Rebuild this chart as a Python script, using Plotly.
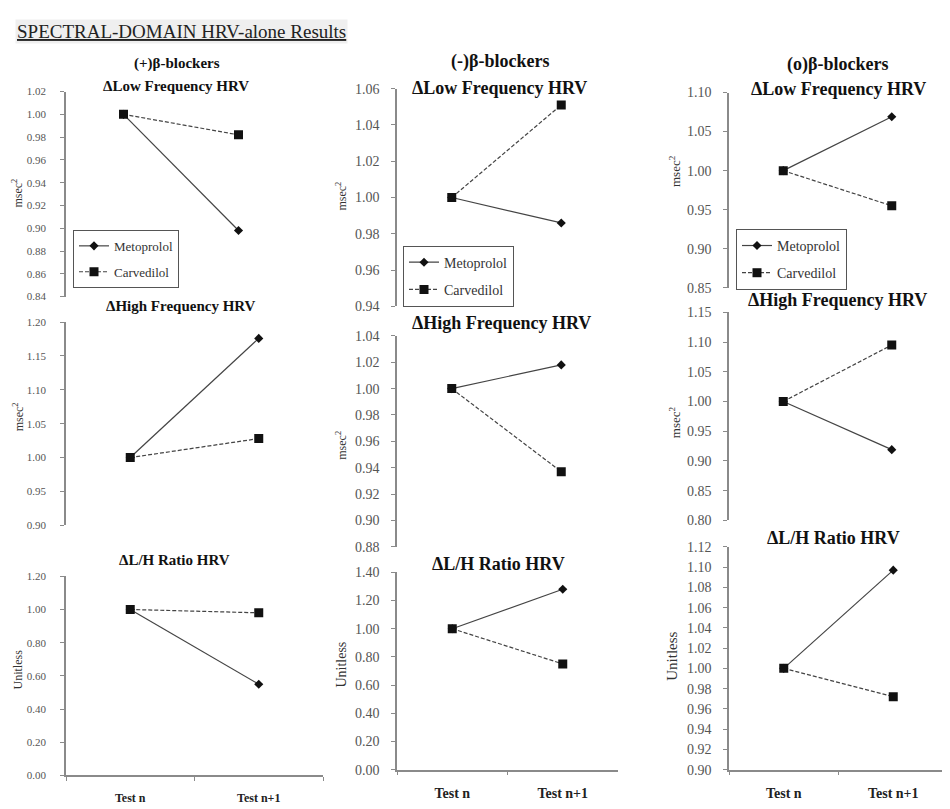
import plotly.graph_objects as go

# browser body margin (8px) is compensated: coordinates below are screen pixels
OFF = 8
W, H = 950 - OFF, 809 - OFF


def px(x):
    return (x - OFF) / W


def py(y):
    return 1 - (y - OFF) / H


categories = ["Test n", "Test n+1"]

# (+) beta-blockers
lf_plus_met = [1.00, 0.898]
lf_plus_carv = [1.00, 0.982]
hf_plus_met = [1.00, 1.176]
hf_plus_carv = [1.00, 1.028]
lh_plus_met = [1.00, 0.55]
lh_plus_carv = [1.00, 0.98]

# (-) beta-blockers
lf_minus_met = [1.00, 0.986]
lf_minus_carv = [1.00, 1.051]
hf_minus_met = [1.00, 1.018]
hf_minus_carv = [1.00, 0.937]
lh_minus_met = [1.00, 1.28]
lh_minus_carv = [1.00, 0.75]

# (o) beta-blockers
lf_o_met = [1.00, 1.069]
lf_o_carv = [1.00, 0.955]
hf_o_met = [1.00, 0.919]
hf_o_carv = [1.00, 1.095]
lh_o_met = [1.00, 1.097]
lh_o_carv = [1.00, 0.972]

y_ranges = [
    (0.84, 1.02, 0.02), (0.90, 1.20, 0.05), (0.00, 1.20, 0.20),
    (0.94, 1.06, 0.02), (0.88, 1.04, 0.02), (0.00, 1.40, 0.20),
    (0.85, 1.10, 0.05), (0.80, 1.15, 0.05), (0.90, 1.12, 0.02),
]

panel_data = [
    (lf_plus_met, lf_plus_carv), (hf_plus_met, hf_plus_carv), (lh_plus_met, lh_plus_carv),
    (lf_minus_met, lf_minus_carv), (hf_minus_met, hf_minus_carv), (lh_minus_met, lh_minus_carv),
    (lf_o_met, lf_o_carv), (hf_o_met, hf_o_carv), (lh_o_met, lh_o_carv),
]

# pixel boxes: x0, x1, ytop, ybottom
boxes = [
    (66, 296, 86, 295), (66, 323, 321, 528), (66, 323, 580, 783),
    (397, 616, 83, 305), (397, 616, 335, 550), (397, 618, 576, 777),
    (729, 946, 87, 286), (729, 946, 311, 523), (729, 948, 550, 777),
]

# per column font sizes (first column of the original is horizontally compressed)
col_tick = [11, 14, 14]
col_xtick = [12, 14, 14]
col_title = [15, 18, 18]

titles = [
    ("(+)β-blockers", 177, 57, 0), ("ΔLow Frequency HRV", 176, 80, 0),
    ("ΔHigh Frequency HRV", 181, 305, 0),
    ("ΔL/H Ratio HRV", 174, 563, 0),
    ("(-)β-blockers", 500, 55, 1), ("ΔLow Frequency HRV", 499, 82, 1),
    ("ΔHigh Frequency HRV", 501, 322, 1),
    ("ΔL/H Ratio HRV", 498, 567, 1),
    ("(o)β-blockers", 837, 58, 2), ("ΔLow Frequency HRV", 838, 83, 2),
    ("ΔHigh Frequency HRV", 837, 298, 2),
    ("ΔL/H Ratio HRV", 833, 541, 2),
]

ytitles = [
    ("msec<sup>2</sup>", 18, 190, 12), ("msec<sup>2</sup>", 18, 418, 12), ("Unitless", 18, 675, 12),
    ("msec<sup>2</sup>", 342, 193, 12), ("msec<sup>2</sup>", 342, 447, 12), ("Unitless", 342, 670, 14),
    ("msec<sup>2</sup>", 675, 167, 13), ("msec<sup>2</sup>", 675, 423, 13), ("Unitless", 672, 662, 15),
]

legend_for_panel = {0: "legend", 3: "legend2", 6: "legend3"}

SERIF = "Liberation Serif"
AXC = "#8a8a8a"
TXT = "#333333"

fig = go.Figure()
layout = {}

for i in range(9):
    n = "" if i == 0 else str(i + 1)
    col = i // 3
    met, carv = panel_data[i]
    lg = legend_for_panel.get(i)
    show = lg is not None
    common = dict(xaxis="x" + n, yaxis="y" + n, x=categories, mode="lines+markers",
                  showlegend=show)
    if show:
        common["legend"] = lg
    fig.add_trace(go.Scatter(y=met, name="Metoprolol", legendgroup="met" + n,
                             line=dict(color="#444444", width=1.2),
                             marker=dict(symbol="diamond", size=7, color="#111111"),
                             **common))
    fig.add_trace(go.Scatter(y=carv, name="Carvedilol", legendgroup="carv" + n,
                             line=dict(color="#444444", width=1.2, dash="4px,2px"),
                             marker=dict(symbol="square", size=9, color="#111111"),
                             **common))

    x0, x1, yt, yb = boxes[i]
    lo, hi, dt = y_ranges[i]
    bottom = i in (2, 5, 8)
    layout["xaxis" + n] = dict(
        domain=[px(x0), px(x1)], anchor="y" + n, type="category",
        range=[-0.5, 1.5], showgrid=False, zeroline=False,
        showline=bottom, linecolor=AXC, linewidth=1.5,
        ticks="outside" if bottom else "", tickson="boundaries", ticklen=4,
        tickcolor=AXC, showticklabels=bottom,
        tickfont=dict(family=SERIF, size=col_xtick[col], color="#222222", weight="bold"),
        ticklabelstandoff=10,
    )
    layout["yaxis" + n] = dict(
        domain=[py(yb), py(yt)], anchor="x" + n,
        range=[lo - 1e-6, hi + 1e-6], dtick=dt, tick0=0, tickformat=".2f",
        showgrid=False, zeroline=False, showline=True, linecolor=AXC, linewidth=1.5,
        ticks="outside", ticklen=4, tickcolor=AXC,
        tickfont=dict(family=SERIF, size=col_tick[col], color="#555555"),
        ticklabelstandoff=12 if col == 0 else 9,
    )

annotations = []
for text, cx, cy, col in titles:
    annotations.append(dict(text="<b>" + text + "</b>", x=px(cx), y=py(cy),
                            xref="paper", yref="paper", showarrow=False,
                            xanchor="center", yanchor="middle",
                            font=dict(family=SERIF, size=col_title[col], color="#111111")))
for text, cx, cy, fs in ytitles:
    annotations.append(dict(text=text, x=px(cx), y=py(cy), xref="paper", yref="paper",
                            showarrow=False, textangle=-90, xanchor="center", yanchor="middle",
                            font=dict(family=SERIF, size=fs, color=TXT)))
annotations.append(dict(text="<u>SPECTRAL-DOMAIN HRV-alone Results</u>", x=px(15),
                        y=py(25), xref="paper", yref="paper", showarrow=False,
                        xanchor="left", yanchor="middle", bgcolor="#efefef",
                        font=dict(family=SERIF, size=19, color="#222222")))

leg_common = dict(bgcolor="white", bordercolor="#555555", borderwidth=1,
                  xanchor="left", yanchor="top", tracegroupgap=6, itemwidth=30)
layout["legend"] = dict(x=px(73), y=py(227), font=dict(family=SERIF, size=13, color=TXT),
                        **leg_common)
layout["legend2"] = dict(x=px(403), y=py(243), font=dict(family=SERIF, size=14, color=TXT),
                         **leg_common)
layout["legend3"] = dict(x=px(736), y=py(226), font=dict(family=SERIF, size=14, color=TXT),
                         **leg_common)

fig.update_layout(
    width=W, height=H, margin=dict(l=0, r=0, t=0, b=0),
    paper_bgcolor="white", plot_bgcolor="white",
    annotations=annotations, **layout,
)

fig.write_html("out.html")
